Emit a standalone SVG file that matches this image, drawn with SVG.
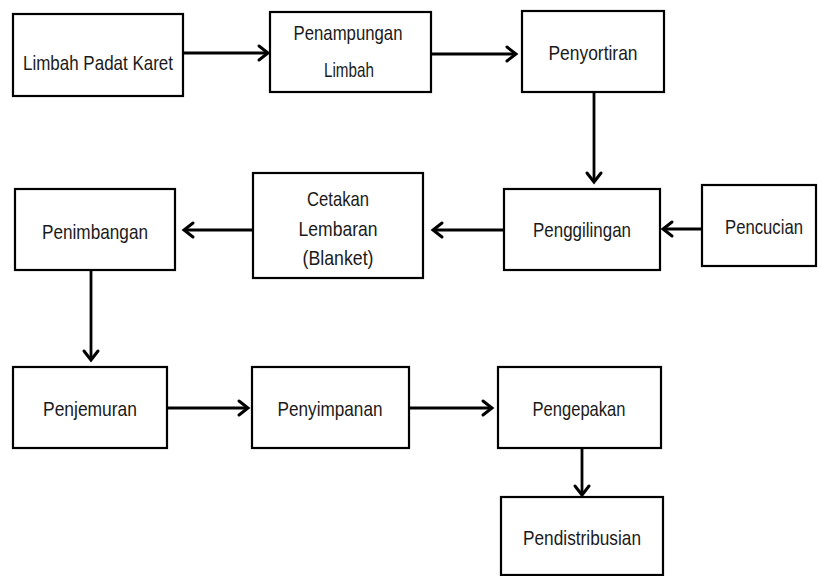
<svg xmlns="http://www.w3.org/2000/svg" width="819" height="576" viewBox="0 0 819 576">
<defs>
<marker id="ah" markerUnits="userSpaceOnUse" markerWidth="14" markerHeight="18" refX="11" refY="8" orient="auto" overflow="visible">
<path d="M2,1 L11,8 L2,15" fill="none" stroke="#000" stroke-width="3" stroke-linecap="round" stroke-linejoin="miter"/>
</marker>
</defs>
<style>
rect{fill:#fff;stroke:#000;stroke-width:2.2}
text{font-family:"Liberation Sans",Arial,sans-serif;font-size:21px;fill:#1a1a1a;text-anchor:middle}
.c line{stroke:#000;stroke-width:2.8;marker-end:url(#ah)}
</style>
<rect x="0" y="0" width="819" height="576" style="fill:#fff;stroke:none"/>
<g id="n1"><rect x="13" y="14" width="170" height="82"/><text x="98" y="70" textLength="150" lengthAdjust="spacingAndGlyphs">Limbah Padat Karet</text></g>
<g id="n2"><rect x="270" y="12" width="161" height="80"/><text x="348" y="40" textLength="109" lengthAdjust="spacingAndGlyphs">Penampungan</text><text x="349" y="77" textLength="50" lengthAdjust="spacingAndGlyphs">Limbah</text></g>
<g id="n3"><rect x="522" y="11" width="142" height="81"/><text x="593" y="60" textLength="89" lengthAdjust="spacingAndGlyphs">Penyortiran</text></g>
<g id="n4"><rect x="504" y="189" width="156" height="81"/><text x="582" y="237" textLength="98" lengthAdjust="spacingAndGlyphs">Penggilingan</text></g>
<g id="n5"><rect x="702" y="185" width="114" height="81"/><text x="764" y="234" textLength="78" lengthAdjust="spacingAndGlyphs" font-size="20">Pencucian</text></g>
<g id="n6"><rect x="253" y="173" width="170" height="105"/><text x="338" y="206" textLength="62" lengthAdjust="spacingAndGlyphs">Cetakan</text><text x="338" y="236" textLength="79" lengthAdjust="spacingAndGlyphs">Lembaran</text><text x="338" y="265" textLength="71" lengthAdjust="spacingAndGlyphs">(Blanket)</text></g>
<g id="n7"><rect x="15" y="189" width="160" height="81"/><text x="95" y="239" textLength="106" lengthAdjust="spacingAndGlyphs">Penimbangan</text></g>
<g id="n8"><rect x="13" y="367" width="154" height="81"/><text x="90" y="416" textLength="94" lengthAdjust="spacingAndGlyphs">Penjemuran</text></g>
<g id="n9"><rect x="252" y="367" width="157" height="81"/><text x="330" y="416" textLength="105" lengthAdjust="spacingAndGlyphs">Penyimpanan</text></g>
<g id="n10"><rect x="498" y="367" width="163" height="81"/><text x="579" y="416" textLength="93" lengthAdjust="spacingAndGlyphs">Pengepakan</text></g>
<g id="n11"><rect x="501" y="497" width="162" height="78"/><text x="582" y="545" textLength="118" lengthAdjust="spacingAndGlyphs">Pendistribusian</text></g>
<g id="connectors" class="c">
<line x1="183" y1="53" x2="268" y2="53"/>
<line x1="431" y1="54" x2="516" y2="54"/>
<line x1="594" y1="92" x2="594" y2="182"/>
<line x1="702" y1="229" x2="663" y2="229"/>
<line x1="504" y1="230" x2="433" y2="230"/>
<line x1="253" y1="230" x2="184" y2="230"/>
<line x1="91" y1="270" x2="91" y2="360"/>
<line x1="167" y1="408" x2="248" y2="408"/>
<line x1="409" y1="408" x2="492" y2="408"/>
<line x1="582" y1="448" x2="582" y2="495"/>
</g>
</svg>
